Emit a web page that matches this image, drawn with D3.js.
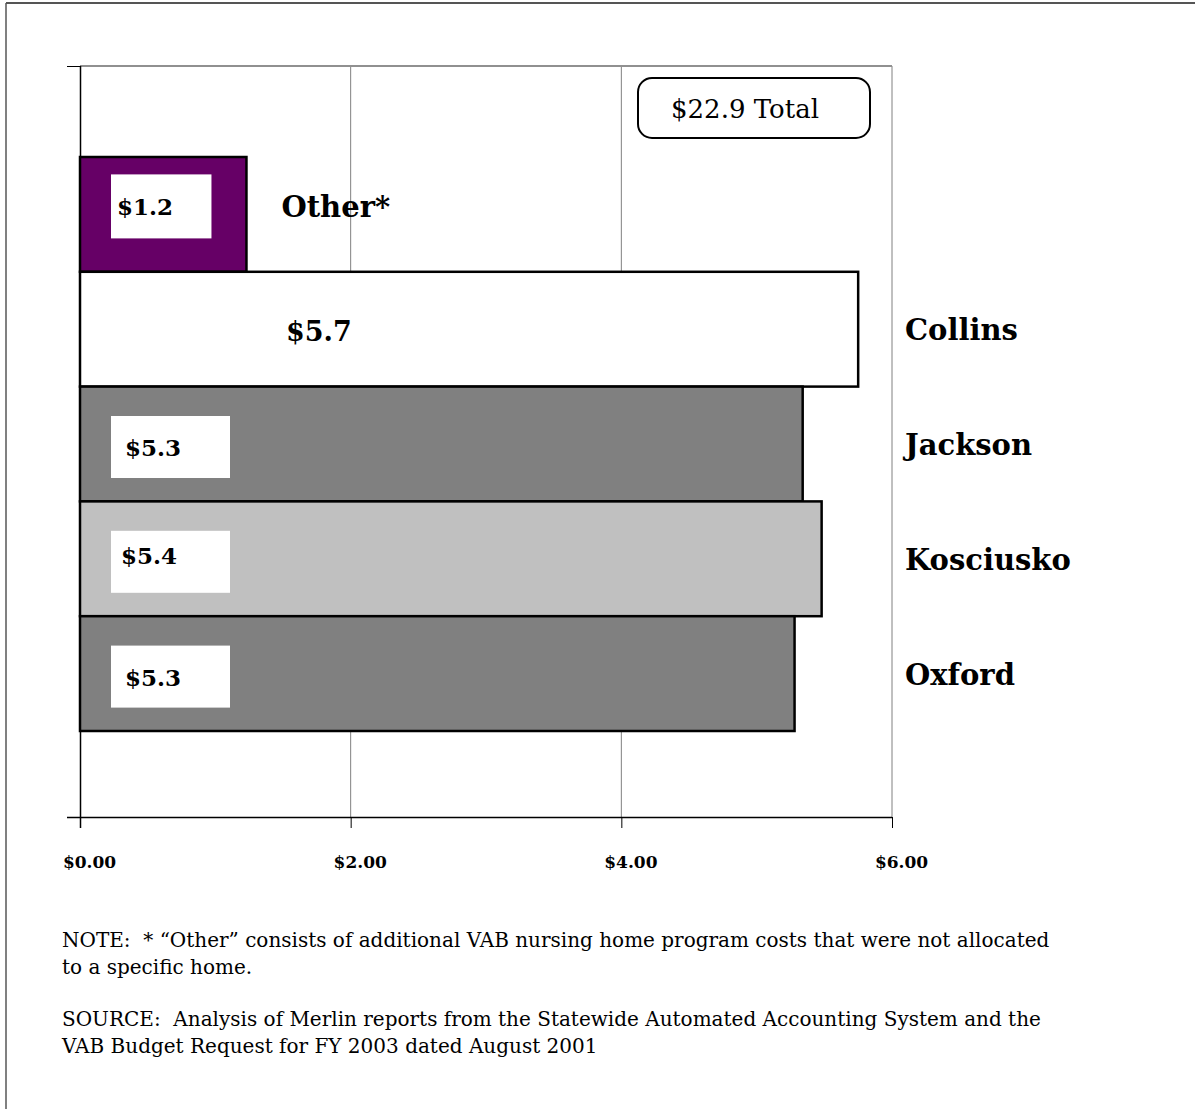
<!DOCTYPE html>
<html>
<head>
<meta charset="utf-8">
<script src="https://cdn.jsdelivr.net/npm/d3@7"></script>
<style>
  body { margin: 0; background: #fff; }
  svg { display: block; font-family: "DejaVu Serif", serif; }
</style>
</head>
<body>
<div id="chart"></div>
<script>
// chart data
const homes = ["Other*", "Collins", "Jackson", "Kosciusko", "Oxford"];
const costs = [1.23, 5.75, 5.34, 5.48, 5.28];
const costLabels = ["$1.2", "$5.7", "$5.3", "$5.4", "$5.3"];
const fills = ["#660066", "#ffffff", "#808080", "#c0c0c0", "#808080"];
const xTicks = [0, 2, 4, 6];
const totalLabel = "$22.9 Total";
const noteLines = [
    "NOTE:  * \u201cOther\u201d consists of additional VAB nursing home program costs that were not allocated",
    "to a specific home."
];
const sourceLines = [
    "SOURCE:  Analysis of Merlin reports from the Statewide Automated Accounting System and the",
    "VAB Budget Request for FY 2003 dated August 2001"
];

const width = 1195, height = 1109;
const plot = {left: 80, right: 892, top: 66, bottom: 817};

const svg = d3.select("#chart").append("svg")
    .attr("width", width)
    .attr("height", height);

// page frame
svg.append("line").attr("x1", 6).attr("x2", 6).attr("y1", 3).attr("y2", height)
    .attr("stroke", "#808080").attr("stroke-width", 2);
svg.append("line").attr("x1", 6).attr("x2", width).attr("y1", 3).attr("y2", 3)
    .attr("stroke", "#555").attr("stroke-width", 2);

// scales
const x = d3.scaleLinear().domain([0, 6]).range([plot.left, plot.right]);
const y = d3.scaleBand().domain(homes).range([157, 731]).paddingInner(0);

// grid lines
svg.append("g")
    .selectAll("line")
    .data(xTicks.slice(1))
    .enter().append("line")
    .attr("x1", d => x(d)).attr("x2", d => x(d))
    .attr("y1", plot.top).attr("y2", plot.bottom)
    .attr("stroke", "#808080").attr("stroke-width", 1);

svg.append("line")
    .attr("x1", plot.left).attr("x2", plot.right)
    .attr("y1", plot.top).attr("y2", plot.top)
    .attr("stroke", "#909090").attr("stroke-width", 2);

// x axis
const xAxis = svg.append("g")
    .attr("transform", "translate(0," + plot.bottom + ")")
    .call(d3.axisBottom(x)
        .tickValues(xTicks)
        .tickSize(11)
        .tickSizeOuter(0)
        .tickFormat(d => "$" + d.toFixed(2)));
xAxis.select(".domain").attr("d", "M" + (plot.left - 13) + ",0.5H" + plot.right)
    .attr("stroke", "#000").attr("stroke-width", 1.5);
xAxis.selectAll(".tick line").attr("stroke", "#000");
xAxis.selectAll(".tick text")
    .attr("fill", "#000")
    .attr("dx", 9)
    .attr("y", 39)
    .style("font-family", "'DejaVu Serif', serif")
    .style("font-size", "17px")
    .style("font-weight", "bold");

// y axis (no labels, just frame ticks)
const yLin = d3.scaleLinear().domain([0, 1]).range([plot.bottom, plot.top]);
const yAxis = svg.append("g")
    .attr("transform", "translate(" + plot.left + ",0)")
    .call(d3.axisLeft(yLin).tickValues([1]).tickSize(13).tickSizeOuter(0).tickFormat(""));
yAxis.select(".domain").attr("d", "M0.5," + plot.top + "V" + (plot.bottom + 11))
    .attr("stroke", "#000").attr("stroke-width", 1.5);
yAxis.selectAll(".tick line").attr("stroke", "#000");

// bars
const bars = svg.append("g")
    .selectAll("g")
    .data(homes)
    .enter().append("g");

bars.append("rect")
    .attr("x", x(0))
    .attr("y", d => y(d))
    .attr("width", (d, i) => x(costs[i]) - x(0))
    .attr("height", y.bandwidth())
    .attr("fill", (d, i) => fills[i])
    .attr("stroke", "#000")
    .attr("stroke-width", 2.5);

// value label boxes (white boxes inside the dark bars)
bars.filter((d, i) => fills[i] !== "#ffffff")
    .append("rect")
    .attr("x", x(0) + 31)
    .attr("y", d => y(d) + y.bandwidth() / 2 - (homes.indexOf(d) === 0 ? 40 : 28))
    .attr("width", d => Math.min(119, x(costs[homes.indexOf(d)]) - x(0) - 66))
    .attr("height", d => homes.indexOf(d) === 0 ? 64 : 62)
    .attr("fill", "#fff");

bars.append("text")
    .attr("x", (d, i) => fills[i] === "#ffffff" ? x(0) + 206 : x(0) + (i === 0 ? 37 : (i === 3 ? 41 : 45)))
    .attr("y", (d, i) => y(d) + y.bandwidth() / 2 + (i === 0 ? 1 : (i === 3 ? 5 : 12)))
    .style("font-size", (d, i) => fills[i] === "#ffffff" ? "27px" : "23px")
    .style("font-weight", "bold")
    .text((d, i) => costLabels[i]);

// category labels
bars.append("text")
    .attr("x", (d, i) => i === 0 ? x(costs[0]) + 35 : plot.right + 13)
    .attr("y", (d, i) => y(d) + y.bandwidth() / 2 + (i === 0 ? 3 : 11))
    .style("font-size", "29px")
    .style("font-weight", "bold")
    .text(d => d);

// total box
svg.append("rect")
    .attr("x", 638).attr("y", 78)
    .attr("width", 232).attr("height", 60)
    .attr("rx", 14)
    .attr("fill", "#fff")
    .attr("stroke", "#000")
    .attr("stroke-width", 2);
svg.append("text")
    .attr("x", 745).attr("y", 118)
    .attr("text-anchor", "middle")
    .style("font-size", "26px")
    .text(totalLabel);

// notes
const notes = svg.append("g")
    .style("font-size", "20px");
notes.selectAll("text.note")
    .data(noteLines)
    .enter().append("text")
    .attr("class", "note")
    .attr("xml:space", "preserve")
    .style("white-space", "pre")
    .attr("x", 62)
    .attr("y", (d, i) => 947 + i * 27)
    .text(d => d);
notes.selectAll("text.source")
    .data(sourceLines)
    .enter().append("text")
    .attr("class", "source")
    .attr("xml:space", "preserve")
    .style("white-space", "pre")
    .attr("x", 62)
    .attr("y", (d, i) => 1026 + i * 27)
    .text(d => d);
</script>
</body>
</html>
